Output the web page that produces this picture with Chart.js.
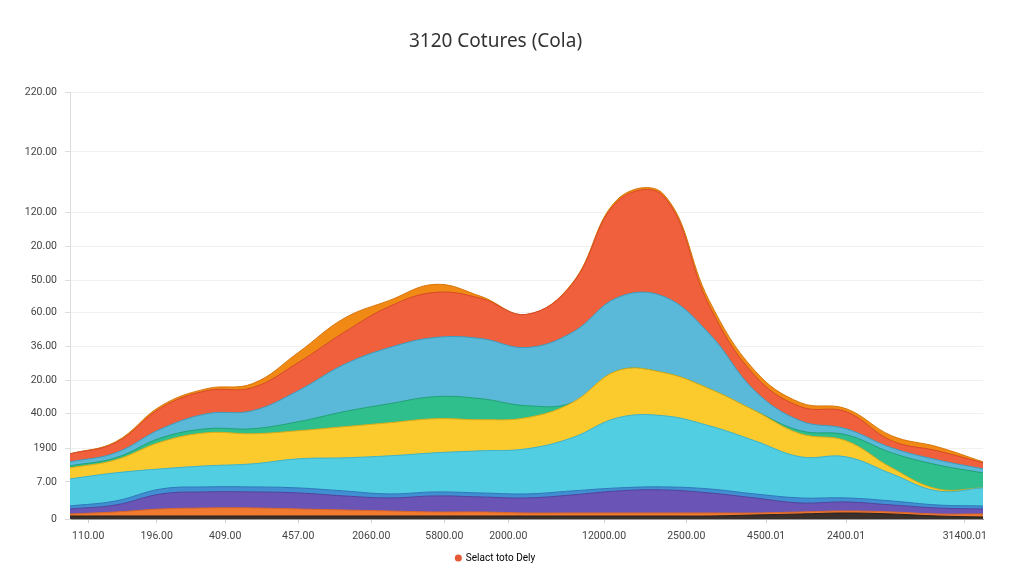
<!DOCTYPE html>
<html>
<head>
<meta charset="utf-8">
<script src="https://cdn.jsdelivr.net/npm/chart.js@4.4.1/dist/chart.umd.min.js"></script>
<style>
  html, body { margin: 0; padding: 0; background: #fff; }
  #wrap { width: 1024px; height: 585px; }
</style>
</head>
<body>
<div id="wrap"><canvas id="chart" width="1024" height="585"></canvas></div>
<script>
// Stacked smooth area chart, layers listed bottom to top.

var titleText = '3120 Cotures (Cola)';
var legendText = 'Selact toto Dely';

// y axis: tick values (axis units) and the labels printed next to them
var yTickValues = [0, 37, 70, 105, 138, 172, 206, 238, 272, 306, 366, 425];
var yTickLabels = ['0', '7.00', '1900', '40.00', '20.00', '36.00', '60.00', '50.00', '20.00', '120.00', '120.00', '220.00'];

// x axis: tick positions (in sample units) and their labels
var xTickValues = [0.4, 1.9, 3.4, 5.0, 6.6, 8.2, 9.6, 11.7, 13.5, 15.25, 17.0, 19.6];
var xTickLabels = ['110.00', '196.00', '409.00', '457.00', '2060.00', '5800.00', '2000.00', '12000.00', '2500.00', '4500.01', '2400.01', '31400.01'];

// layer thickness at each of the 21 sample points
var darkBase   = [3, 3, 3, 3, 3, 3, 3, 3, 3, 3, 3, 3, 3, 3, 3, 4, 5, 6, 5, 3, 2];
var orangeLow  = [2, 4, 7, 8, 8, 7, 6, 5, 4, 4, 3, 3, 3, 3, 3, 2, 2, 2, 2, 2, 3];
var purple     = [5, 7, 15, 16, 16, 16, 14, 13, 16, 15, 15, 18, 22, 23, 20, 15, 9, 9, 7, 6, 5];
var blue       = [3, 4, 5, 5, 5, 5, 5, 4, 4, 4, 4, 4, 3, 3, 4, 4, 5, 4, 4, 3, 3];
var cyan       = [27, 28, 20, 21, 23, 29, 33, 38, 39, 42, 45, 53, 70, 71, 63, 53, 41, 41, 27, 14, 18];
var yellow     = [11, 13, 27, 33, 30, 28, 31, 33, 34, 31, 31, 35, 47, 43, 37, 30, 23, 16, 6, 2, 0];
var green      = [2, 2, 4, 4, 5, 9, 15, 19, 22, 21, 12, 0, 0, 0, 0, 0, 3, 6, 15, 24, 15];
var sky        = [4, 5, 9, 15, 18, 31, 47, 56, 59, 60, 58, 70, 73, 76, 55, 20, 10, 6, 5, 5, 4];
var red        = [8, 10, 21, 23, 23, 28, 32, 41, 45, 40, 33, 48, 96, 100, 28, 15, 14, 17, 7, 9, 6];
var orangeTop  = [0, 1, 2, 2, 4, 10, 14, 6, 8, 2, 0, 1, 2, 2, 5, 5, 4, 3, 5, 4, 1];

var layers = [
    { name: 'dark',      values: darkBase,  fill: '#3a2f2a', line: '#2a211d' },
    { name: 'orangeLow', values: orangeLow, fill: '#f07b30', line: '#d9652a' },
    { name: 'purple',    values: purple,    fill: '#6a55b6', line: '#54439a' },
    { name: 'blue',      values: blue,      fill: '#3f8fd2', line: '#2f77b8' },
    { name: 'cyan',      values: cyan,      fill: '#52cee2', line: '#3fb2c8' },
    { name: 'yellow',    values: yellow,    fill: '#fbca2c', line: '#d9ab1c' },
    { name: 'green',     values: green,     fill: '#2ebf8c', line: '#23a176' },
    { name: 'sky',       values: sky,       fill: '#5ab8d8', line: '#3f9cbf' },
    { name: 'red',       values: red,       fill: '#f0603c', line: '#d44a2b' },
    { name: 'orangeTop', values: orangeTop, fill: '#f08a14', line: '#d8760c' }
];

function toPoints(arr) {
    return arr.map(function (v, i) { return { x: i, y: v }; });
}

var datasets = layers.map(function (l) {
    return {
        label: l.name,
        data: toPoints(l.values),
        backgroundColor: l.fill,
        borderColor: l.line,
        borderWidth: 1,
        fill: 'origin',
        pointRadius: 0,
        tension: 0.4
    };
});

var tickFont = { family: 'Roboto', size: 10.5 };

new Chart(document.getElementById('chart').getContext('2d'), {
    type: 'line',
    data: { datasets: datasets },
    options: {
        responsive: false,
        animation: false,
        layout: { padding: { left: 8, right: 41, top: 0, bottom: 12 } },
        scales: {
            x: {
                type: 'linear',
                min: 0,
                max: 20,
                afterBuildTicks: function (scale) {
                    scale.ticks = xTickValues.map(function (v) { return { value: v }; });
                },
                afterFit: function (scale) { scale.height = 26; },
                ticks: {
                    autoSkip: false,
                    maxRotation: 0,
                    padding: 7,
                    color: '#444',
                    font: tickFont,
                    callback: function (v, i) { return xTickLabels[i]; }
                },
                grid: { drawOnChartArea: false, drawTicks: true, tickLength: 4, color: '#cfcfcf' },
                border: { color: '#9a9a9a', width: 1 }
            },
            y: {
                type: 'linear',
                stacked: true,
                min: 0,
                max: 425,
                afterBuildTicks: function (scale) {
                    scale.ticks = yTickValues.map(function (v) { return { value: v }; });
                },
                afterFit: function (scale) { scale.width = 62; },
                ticks: {
                    padding: 8,
                    color: '#444',
                    font: tickFont,
                    callback: function (v, i) { return yTickLabels[i]; }
                },
                grid: { color: '#f1f1f1', tickLength: 5, tickColor: '#dcdcdc' },
                border: { color: '#dcdcdc', width: 1 }
            }
        },
        plugins: {
            title: {
                display: true,
                text: titleText,
                color: '#333',
                font: { family: 'Noto Sans', size: 19, weight: 'normal' },
                padding: { top: 30, bottom: 40 }
            },
            legend: {
                display: true,
                position: 'bottom',
                labels: {
                    usePointStyle: true,
                    boxWidth: 5,
                    boxHeight: 5,
                    padding: 8,
                    color: '#555',
                    font: { family: 'Roboto', size: 10 },
                    generateLabels: function () {
                        return [{
                            text: legendText,
                            fillStyle: '#e35a35',
                            strokeStyle: '#e35a35',
                            lineWidth: 0,
                            pointStyle: 'circle',
                            hidden: false,
                            datasetIndex: 8
                        }];
                    }
                }
            },
            tooltip: { enabled: false }
        }
    }
});
</script>
</body>
</html>
